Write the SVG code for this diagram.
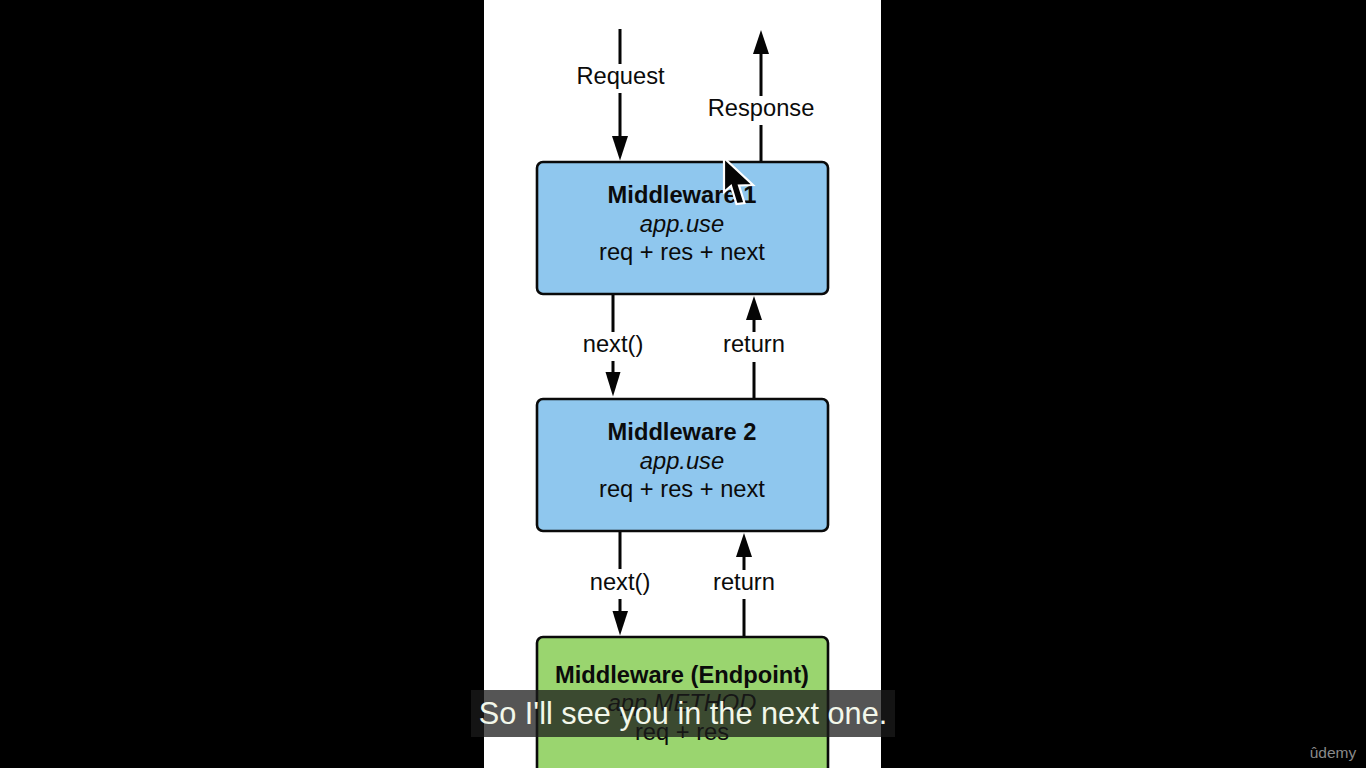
<svg xmlns="http://www.w3.org/2000/svg" width="1366" height="768" viewBox="0 0 1366 768">
<style>
text{font-family:"Liberation Sans",Arial,sans-serif;font-size:23.7px;fill:#0b0b0b;text-anchor:middle}
.t{font-weight:bold}
.i{font-style:italic}
.box{stroke:#0a0a0a;stroke-width:2.6}
.blue{fill:#8fc7ee}
.green{fill:#9ad56f}
.c{stroke:#050505;stroke-width:3;fill:none}
.h{fill:#050505}
</style>
<rect width="1366" height="768" fill="#000"/>
<rect x="484" y="0" width="397" height="768" fill="#fff"/>
<g id="connectors">
<path class="c" d="M620 29V64M620 93V140"/><path class="h" d="M612 136H628L620 160.500Z"/>
<path class="c" d="M761 162V125M761 96V50"/><path class="h" d="M753 54H769L761 30Z"/>
<path class="c" d="M613 294V332M613 361V376"/><path class="h" d="M605.500 372H620.500L613 396.500Z"/>
<path class="c" d="M754 398V362M754 332V318"/><path class="h" d="M746 320H762L754 296Z"/>
<path class="c" d="M620 531V569M620 599V614"/><path class="h" d="M612.500 611H628L620 635.500Z"/>
<path class="c" d="M744 636V599M744 570V555"/><path class="h" d="M736 557H752L744 533Z"/>
</g>
<g id="edge-labels">
<text x="620.500" y="83.500">Request</text>
<text x="761" y="115.500">Response</text>
<text x="613" y="351.500">next()</text>
<text x="754" y="351.500">return</text>
<text x="620" y="589.500">next()</text>
<text x="744" y="589.500">return</text>
</g>
<g id="middleware-1">
<rect class="box blue" x="537" y="162" width="291" height="132" rx="6"/>
<text class="t" x="682" y="202.500">Middleware 1</text>
<text class="i" x="682" y="231.500">app.use</text>
<text x="682" y="259.500">req + res + next</text>
</g>
<g id="middleware-2">
<rect class="box blue" x="537" y="399" width="291" height="132" rx="6"/>
<text class="t" x="682" y="439.500">Middleware 2</text>
<text class="i" x="682" y="468.500">app.use</text>
<text x="682" y="496.500">req + res + next</text>
</g>
<g id="middleware-endpoint">
<rect class="box green" x="537" y="637" width="291" height="140" rx="6"/>
<text class="t" x="682" y="682.500">Middleware (Endpoint)</text>
<text class="i" x="682" y="711">app.METHOD</text>
<text x="682" y="740">req + res</text>
</g>
<g id="cursor">
<path d="M724 158V192L731 186L736.500 204L744.500 203L739 185.500L753 185Z" fill="#050505" stroke="#fff" stroke-width="2.200"/>
</g>
<g id="caption">
<rect x="471" y="690" width="424" height="47" fill="#1b1b1b" fill-opacity=".745"/>
<text x="683" y="724" style="font-size:30.700px;fill:#f2f7ea">So I'll see you in the next one.</text>
</g>
<g id="watermark">
<text x="1333" y="757.500" style="font-size:15.500px;fill:#8a8a8a">ûdemy</text>
</g>
</svg>
